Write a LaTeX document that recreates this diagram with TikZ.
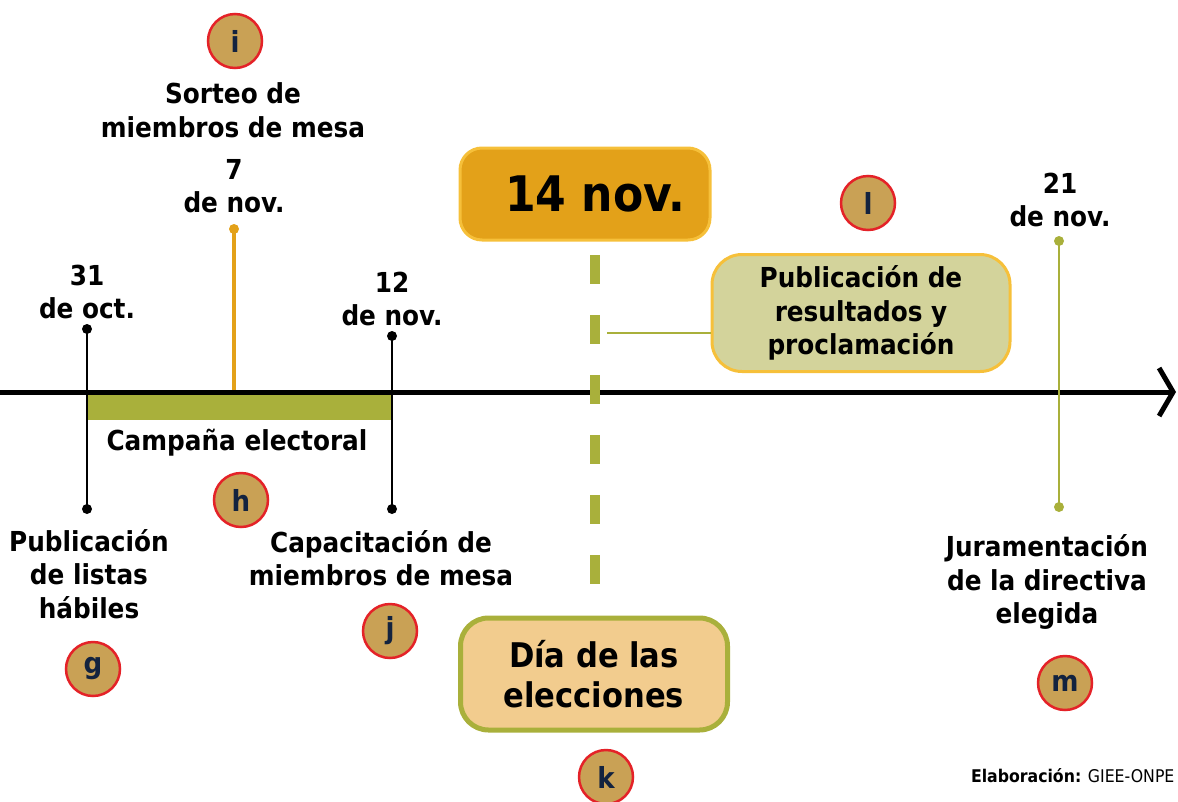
\documentclass[tikz,border=0pt]{standalone}
\usepackage{fontspec}
\setmainfont{DejaVu Sans Condensed}
\usetikzlibrary{arrows.meta}

\definecolor{verdeOliva}{HTML}{A9B03B}
\definecolor{naranja}{HTML}{E3A119}
\definecolor{bordeAmbar}{HTML}{F6C03A}
\definecolor{verdeClaro}{HTML}{D3D39B}
\definecolor{durazno}{HTML}{F2CC8E}
\definecolor{dorado}{HTML}{C9A155}
\definecolor{rojo}{HTML}{E42228}
\definecolor{azulOscuro}{HTML}{13233F}

\begin{document}
\begin{tikzpicture}[x=1pt, y=-1pt,
    etiqueta/.style={align=center, font=\fontsize{27.5}{33.5}\selectfont\bfseries},
    letra/.style={circle, draw=rojo, line width=2.5pt, fill=dorado, minimum size=54pt, inner sep=0pt, text=azulOscuro, font=\fontsize{29}{29}\selectfont\bfseries},
    punto/.style={circle, fill=#1, inner sep=0pt, minimum size=10pt},
    punto/.default=black]
    \useasboundingbox (0,0) rectangle (1178,801);

    % Campaña (barra)
    \fill[verdeOliva] (88,394) rectangle (392,420);
    \node[etiqueta] (campana) at (237,443) {Campaña electoral};

    % Eje del tiempo
    \coordinate (ini) at (0,392);
    \coordinate (fin) at (1176,392);
    \draw[line width=5pt, -{Straight Barb[length=14pt, width=48pt]}] (ini) -- (fin);

    % 31 de oct.
    \node[punto] (oct1) at (87,329) {};
    \node[punto] (oct2) at (87,509) {};
    \draw[line width=2pt] (oct1.center) -- (oct2.center);
    \node[etiqueta] (f31) at (87,292) {31\\de oct.};
    \node[etiqueta] (listas) at (89,574) {Publicación\\de listas\\hábiles};
    \node[letra] (g) at (93,669) {g};

    % 7 de nov.
    \node[punto=naranja] (nov7) at (234,229) {};
    \coordinate (eje7) at (234,390);
    \draw[naranja, line width=4pt] (nov7.center) -- (eje7);
    \node[etiqueta] (f7) at (234,186) {7\\de nov.};
    \node[etiqueta] (sorteo) at (233,110) {Sorteo de\\miembros de mesa};
    \node[letra] (i) at (235,41) {i};
    \node[letra] (h) at (241,500) {h};

    % 12 de nov.
    \node[punto] (nov12a) at (392,336) {};
    \node[punto] (nov12b) at (392,509) {};
    \draw[line width=2pt] (nov12a.center) -- (nov12b.center);
    \node[etiqueta] (f12) at (392,299) {12\\de nov.};
    \node[etiqueta] (capacitacion) at (381,558) {Capacitación de\\miembros de mesa};
    \node[letra] (j) at (390,631) {j};

    % 14 nov. (elecciones)
    \node[rectangle, rounded corners=22pt, fill=naranja, draw=bordeAmbar, line width=3pt,
          minimum width=250pt, minimum height=92pt, font=\fontsize{49}{49}\selectfont\bfseries]
          (dia14) at (585,194) {\hspace*{20pt}14 nov.};
    \coordinate (d1) at (595,255);
    \coordinate (d2) at (595,590);
    \draw[verdeOliva, line width=10pt, dash pattern=on 29pt off 31pt] (d1) -- (d2);
    \node[rectangle, rounded corners=28pt, fill=durazno, draw=verdeOliva, line width=5pt,
          minimum width=267pt, minimum height=112pt, align=center,
          font=\fontsize{34}{40}\selectfont\bfseries]
          (elecciones) at (594,674) {Día de las\\elecciones};
    \node[letra] (k) at (606,777) {k};

    % Resultados
    \node[rectangle, rounded corners=30pt, fill=verdeClaro, draw=bordeAmbar, line width=3pt,
          minimum width=298pt, minimum height=117pt, etiqueta]
          (resultados) at (861,313) {Publicación de\\resultados y\\proclamación};
    \coordinate (c1) at (607,333);
    \draw[verdeOliva, line width=2pt] (c1) -- (c1 -| resultados.west);
    \node[letra] (l) at (868,203) {l};

    % 21 de nov.
    \node[punto=verdeOliva] (nov21a) at (1059,241) {};
    \node[punto=verdeOliva] (nov21b) at (1059,507) {};
    \draw[verdeOliva, line width=2.5pt] (nov21a.center) -- (nov21b.center);
    \node[etiqueta] (f21) at (1060,200) {21\\de nov.};
    \node[etiqueta] (juramento) at (1047,582) {Juramentación\\de la directiva\\elegida};
    \node[letra] (m) at (1065,683) {m};

    % Fuente
    \node[anchor=east, font=\fontsize{17.5}{17.5}\selectfont] (fuente) at (1178,776) {\textbf{Elaboración:} GIEE-ONPE};
\end{tikzpicture}
\end{document}
